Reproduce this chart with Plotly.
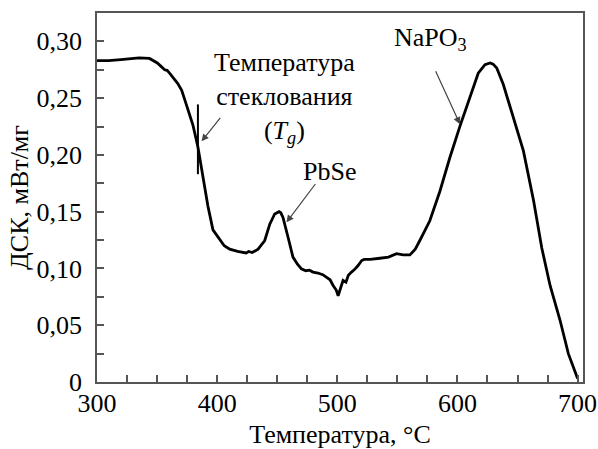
import plotly.graph_objects as go

# ---- data ----
temperature = [300, 309.7, 319.9, 326.9, 335.0, 343.7, 350.2, 353.3, 356.3, 358.3, 360.4, 367.1,
               370.5, 374.3, 379.9, 384.0, 388.2, 392.3, 396.5, 402.1, 405.9, 410.5, 417.0,
               424.1, 426.2, 429.2, 434.1, 439.6, 443.8, 447.9, 451.5, 453.0, 454.8, 459.0,
               463.1, 466.7, 470.1, 473.8, 476.8, 479.8, 483.9, 487.9, 491.0, 494.0, 496.5,
               499.1, 500.7, 502.1, 504.8, 507.2, 509.2, 511.8, 514.3, 517.3, 520.3, 522.4,
               527.4, 535.5, 542.6, 549.3, 554.8, 560.4, 564.9, 568.7, 577.0, 585.4, 593.7,
               602.1, 610.4, 617.3, 622.9, 627.2, 629.7, 632.7, 638.2, 646.6, 654.9, 663.3,
               670.2, 677.1, 685.4, 692.3, 698.7, 700.0]
dsc = [0.283, 0.283, 0.284, 0.285, 0.2855, 0.285, 0.281, 0.278, 0.275, 0.2745, 0.272, 0.263,
       0.257, 0.2445, 0.226, 0.207, 0.18, 0.155, 0.134, 0.125, 0.12, 0.117, 0.115, 0.1137,
       0.115, 0.114, 0.117, 0.1246, 0.139, 0.148, 0.150, 0.149, 0.145, 0.1275, 0.110, 0.104,
       0.0997, 0.098, 0.0985, 0.0968, 0.096, 0.0945, 0.0924, 0.090, 0.085, 0.081, 0.076,
       0.080, 0.0895, 0.088, 0.094, 0.0968, 0.099, 0.1026, 0.107, 0.108, 0.108, 0.109, 0.110,
       0.113, 0.112, 0.112, 0.117, 0.1246, 0.142, 0.168, 0.1977, 0.2254, 0.2518, 0.272,
       0.2795, 0.281, 0.280, 0.2766, 0.262, 0.2327, 0.2035, 0.160, 0.118, 0.085, 0.0544,
       0.025, 0.006, 0.003]

y_tick_vals = [0, 0.05, 0.10, 0.15, 0.20, 0.25, 0.30]
y_tick_text = ["0", "0,05", "0,10", "0,15", "0,20", "0,25", "0,30"]
x_tick_vals = [300, 400, 500, 600, 700]
x_tick_text = ["300", "400", "500", "600", "700"]

# annotation arrows: (tail_x, tail_y, head_x, head_y)
tg_label = "Температура<br>стеклования<br>(<i>T</i><sub><i>g</i></sub>)"
tg_arrow = (403.6, 0.234, 387.0, 0.212)
tg_mark_x = 384.0
tg_mark_y = (0.183, 0.2445)
pbse_arrow = (482.7, 0.1757, 457.7, 0.1406)
napo3_arrow = (581.3, 0.275, 602.1, 0.227)

FONT = "Times New Roman, Liberation Serif, DejaVu Serif, serif"
AX = "#555555"
FS = 26

fig = go.Figure()
fig.add_trace(go.Scatter(x=temperature, y=dsc, mode="lines",
                         line=dict(color="black", width=2.8), showlegend=False))

fig.add_shape(type="line", x0=tg_mark_x, x1=tg_mark_x, y0=tg_mark_y[0], y1=tg_mark_y[1],
              xref="x", yref="y", line=dict(color="black", width=2))

for (tx, ty, hx, hy) in [tg_arrow, pbse_arrow, napo3_arrow]:
    fig.add_annotation(x=hx, y=hy, ax=tx, ay=ty, xref="x", yref="y", axref="x", ayref="y",
                       text="", showarrow=True, arrowhead=2, arrowsize=1.2, arrowwidth=1.2,
                       arrowcolor="#444444", standoff=0)

fig.add_annotation(x=456.3, y=0.2505, xref="x", yref="y", text=tg_label, showarrow=False,
                   font=dict(family=FONT, size=FS, color="black"), align="center",
                   xanchor="center", yanchor="middle")
fig.add_annotation(x=493.8, y=0.185, xref="x", yref="y", text="PbSe", showarrow=False,
                   font=dict(family=FONT, size=FS, color="black"), xanchor="center", yanchor="middle")
fig.add_annotation(x=577.9, y=0.3025, xref="x", yref="y", text="NaPO<sub>3</sub>", showarrow=False,
                   font=dict(family=FONT, size=FS, color="black"), xanchor="center", yanchor="middle")

fig.update_layout(
    width=598, height=449,
    margin=dict(l=97, r=15, t=13, b=67),
    paper_bgcolor="white", plot_bgcolor="white",
    font=dict(family=FONT, size=FS, color="black"),
    xaxis=dict(range=[300, 704.5], tickvals=x_tick_vals, ticktext=x_tick_text,
               ticks="inside", ticklen=7, tickwidth=1.5, tickcolor=AX,
               minor=dict(dtick=25, tick0=300, ticks="inside", ticklen=7, tickwidth=1.5, tickcolor=AX),
               showline=True, linecolor=AX, linewidth=1.5, mirror=True, showgrid=False,
               zeroline=False, ticklabeloverflow="allow", automargin=False,
               ticklabelstandoff=-3,
               title=dict(text="Температура, °С", font=dict(family=FONT, size=FS, color="black"), standoff=18),
               tickfont=dict(family=FONT, size=FS, color="black")),
    yaxis=dict(range=[0, 0.325], tickvals=y_tick_vals, ticktext=y_tick_text,
               ticks="inside", ticklen=7, tickwidth=1.5, tickcolor=AX,
               minor=dict(dtick=0.025, tick0=0, ticks="inside", ticklen=7, tickwidth=1.5, tickcolor=AX),
               showline=True, linecolor=AX, linewidth=1.5, mirror=True, showgrid=False,
               zeroline=False, ticklabelstandoff=8, automargin=False,
               title=dict(text="ДСК, мВт/мг", font=dict(family=FONT, size=FS, color="black"), standoff=0),
               tickfont=dict(family=FONT, size=FS, color="black")),
)

fig.write_html("out.html")
